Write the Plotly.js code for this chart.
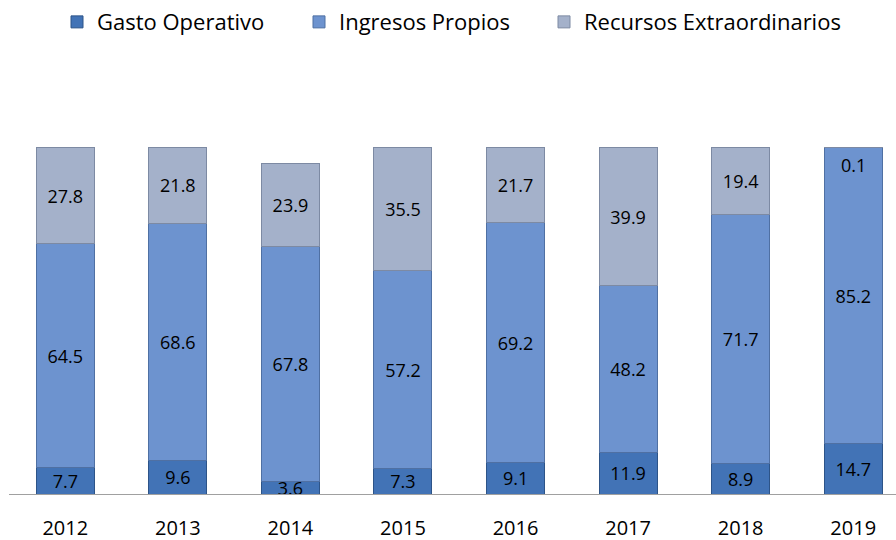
<!DOCTYPE html>
<html>
<head>
<meta charset="utf-8">
<script src="https://cdn.plot.ly/plotly-3.0.1.min.js"></script>
<style>html,body{margin:0;padding:0;background:#fff;}#chart{width:896px;height:540px;}</style>
</head>
<body>
<div id="chart"></div>
<script>
const years = ['2012','2013','2014','2015','2016','2017','2018','2019'];
const gastoOperativo = [7.7, 9.6, 3.6, 7.3, 9.1, 11.9, 8.9, 14.7];
const ingresosPropios = [64.5, 68.6, 67.8, 57.2, 69.2, 48.2, 71.7, 85.2];
const recursosExtra = [27.8, 21.8, 23.9, 35.5, 21.7, 39.9, 19.4, 0.1];

const labelFont = {family: 'Open Sans, sans-serif', size: 18, color: '#000'};
function mk(name, vals, color, line, legendId) {
  return {
    type: 'bar', name: name, x: years, y: vals, legend: legendId,
    marker: {color: color, line: {color: line, width: 1}},
    text: vals.map(v => v >= 1 ? v.toFixed(1) : ''),
    textposition: 'inside', insidetextanchor: 'middle', constraintext: 'none',
    textfont: labelFont,
    cliponaxis: false, hoverinfo: 'skip'
  };
}
const data = [
  mk('Gasto Operativo', gastoOperativo, '#4273b6', '#2d5488', 'legend'),
  mk('Ingresos Propios', ingresosPropios, '#6d93cf', '#4f70a3', 'legend2'),
  mk('Recursos Extraordinarios', recursosExtra, '#a4b1ca', '#7d8aa3', 'legend3')
];

// tiny segments (e.g. 0.1) are labelled just inside the top of the stack
const annotations = [];
recursosExtra.forEach((v, i) => {
  if (v < 1) {
    const total = gastoOperativo[i] + ingresosPropios[i] + v;
    annotations.push({x: i, y: total, xref: 'x', yref: 'y', text: v.toFixed(1),
      showarrow: false, yanchor: 'top', yshift: -3, font: labelFont});
  }
});

function leg(px) {
  return {orientation: 'h', xref: 'container', yref: 'container', x: px / 896, xanchor: 'left',
          y: 0.998, yanchor: 'top', font: {size: 22, color: '#000'}, bgcolor: 'rgba(0,0,0,0)'};
}

const layout = {
  width: 896, height: 540,
  margin: {l: 9, r: 0, t: 113, b: 46},
  barmode: 'stack', bargap: 0.485,
  paper_bgcolor: '#fff', plot_bgcolor: '#fff',
  font: {family: 'Open Sans, sans-serif', color: '#000'},
  showlegend: true,
  legend: leg(57),
  legend2: leg(299),
  legend3: leg(544),
  annotations: annotations,
  xaxis: {type: 'category', range: [-0.5, 7.38], showline: true, linecolor: '#a0a0a0', linewidth: 1,
          ticks: '', ticklabelstandoff: 16, tickfont: {size: 20, color: '#000'}, showgrid: false, fixedrange: true},
  yaxis: {range: [0, 110], visible: false, showgrid: false, zeroline: false, fixedrange: true}
};
Plotly.newPlot('chart', data, layout, {staticPlot: true});
</script>
</body>
</html>
